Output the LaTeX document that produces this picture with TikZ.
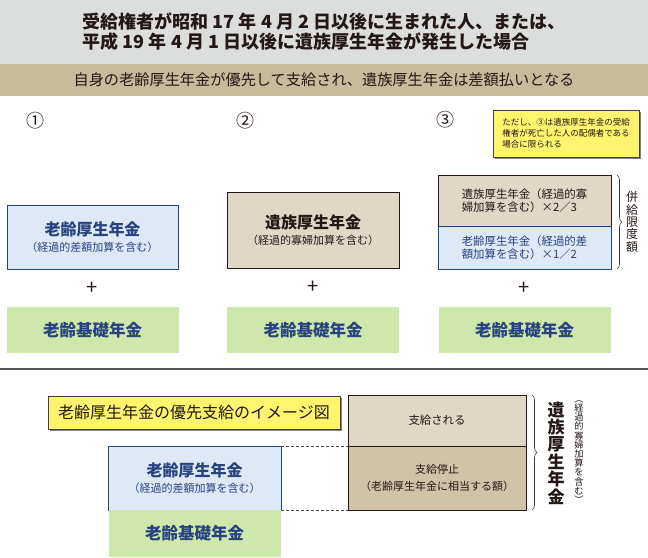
\documentclass[tikz,border=0pt]{standalone}
\usepackage{fontspec}
\setmainfont{Noto Sans CJK JP}
\usetikzlibrary{positioning, calc, shadows, decorations.pathreplacing}

\definecolor{bandgrey}{HTML}{DCDDDD}
\definecolor{bandtan}{HTML}{C8BA9A}
\definecolor{ink}{HTML}{231815}
\definecolor{navy}{HTML}{27437F}
\definecolor{skyfill}{HTML}{DDE9F6}
\definecolor{tanlight}{HTML}{E0D8C5}
\definecolor{tandark}{HTML}{CFC4A7}
\definecolor{leaf}{HTML}{CEE7AA}
\definecolor{memoyellow}{HTML}{FFF46E}
\definecolor{rulegrey}{HTML}{595757}
\newcommand\headlbl[1]{{\fontsize{16}{16}\selectfont\bfseries #1}}

\begin{document}
\begin{tikzpicture}[x=1pt, y=-1pt,
  every node/.style={inner sep=0pt, text=ink},
  band/.style={minimum width=648pt},
  pbox/.style={rectangle, align=center, outer sep=0pt, line width=0.9pt},
  kosei/.style={pbox, draw=navy, fill=skyfill, text=navy, font=\fontsize{11}{16}\selectfont},
  izoku/.style={pbox, draw=ink, fill=tanlight, font=\fontsize{11}{16}\selectfont},
  kiso/.style={pbox, fill=leaf, text=navy, minimum width=172pt, minimum height=46pt, font=\fontsize{16.5}{18}\selectfont\bfseries},
  memo/.style={pbox, draw=black!75, line width=0.6pt, fill=memoyellow, drop shadow={shadow xshift=1.5pt, shadow yshift=-1.5pt, fill=black!50, opacity=1}},
  num/.style={font=\fontsize{18}{18}\selectfont},
  plus/.style={font=\fontsize{20}{20}\selectfont},
  dots/.style={draw=black!70, line width=0.6pt, dash pattern=on 3pt off 2pt},
  bracket/.style={decorate, decoration={brace, amplitude=5pt}, draw=black!80, line width=0.6pt}]
  \useasboundingbox (0,0) rectangle (648,557);
  \node[band, minimum height=64pt, fill=bandgrey, align=left, font=\fontsize{18}{20}\selectfont\bfseries] (head) at (324,32) {受給権者が昭和 17 年 4 月 2 日以後に生まれた人、または、\\平成 19 年 4 月 1 日以後に遺族厚生年金が発生した場合};
  \node[band, minimum height=32pt, fill=bandtan, font=\fontsize{15.2}{16}\selectfont] (lead) at (324,80) {自身の老齢厚生年金が優先して支給され、遺族厚生年金は差額払いとなる};
  \node[num] (n1) at (35,121) {①};
  \node[num] (n2) at (245,121) {②};
  \node[num] (n3) at (445,120) {③};
  \node[memo, minimum width=146pt, minimum height=47pt, align=left, font=\fontsize{8.5}{11}\selectfont] (memo) at (566,133.5) {ただし、③は遺族厚生年金の受給\\権者が死亡した人の配偶者である\\場合に限られる};
  \node[kosei, minimum width=171pt, minimum height=64pt] (k1) at (92.5,237) {\headlbl{老齢厚生年金}\\（経過的差額加算を含む）};
  \node[izoku, minimum width=172pt, minimum height=76pt] (k2) at (313,230) {\headlbl{遺族厚生年金}\\（経過的寡婦加算を含む）};
  \node[izoku, minimum width=173pt, minimum height=51pt, align=left, font=\fontsize{11.4}{13}\selectfont] (s3) at (524.5,200.5) {遺族厚生年金（経過的寡\\婦加算を含む）×2／3};
  \node[kosei, below=0pt of s3, minimum width=173pt, minimum height=43pt, align=left, font=\fontsize{11.4}{13}\selectfont] (r3) {老齢厚生年金（経過的差\\額加算を含む）×1／2};
  \draw[bracket] ([xshift=6pt]s3.north east) -- ([xshift=6pt]r3.south east);
  \node[align=center, font=\fontsize{12}{12.3}\selectfont] (gendo) at ([xshift=21pt]$(s3.north east)!0.5!(r3.south east)$) {併\\給\\限\\度\\額};
  \node[kiso, below=38pt of k1] (g1) {老齢基礎年金};
  \node[kiso, below=39pt of k2] (g2) {老齢基礎年金};
  \node[kiso, below=38pt of r3] (g3) {老齢基礎年金};
  \node[plus] (p1) at ($(k1.south)!0.5!(g1.north)$) {+};
  \node[plus] (p2) at ($(k2.south)!0.5!(g2.north)$) {+};
  \node[plus] (p3) at ($(r3.south)!0.5!(g3.north)$) {+};
  \draw[rulegrey, line width=1.5pt] (0,369) -- (648,369);
  \node[memo, minimum width=292pt, minimum height=33pt, font=\fontsize{16}{16}\selectfont] (zu) at (194,412.5) {老齢厚生年金の優先支給のイメージ図};
  \node[kosei, minimum width=173pt, minimum height=64pt] (k4) at (194.5,478) {\headlbl{老齢厚生年金}\\（経過的差額加算を含む）};
  \node[kiso, below=0pt of k4, minimum height=47pt] (g4) {老齢基礎年金};
  \node[izoku, minimum width=178pt, minimum height=51pt, font=\fontsize{11.4}{16}\selectfont] (paid) at (437,420.5) {支給される};
  \node[izoku, fill=tandark, below=0pt of paid, minimum width=178pt, minimum height=64pt, font=\fontsize{11}{17}\selectfont] (stop) {支給停止\\（老齢厚生年金に相当する額）};
  \draw[dots] (k4.north east) -- (stop.north west);
  \draw[dots] (k4.south east) -- (stop.south west);
  \draw[bracket] ([xshift=6pt]paid.north east) -- ([xshift=6pt]stop.south east);
  \node[align=center, font=\fontsize{17}{17.4}\selectfont\bfseries] (izv) at (556,453) {遺\\族\\厚\\生\\年\\金};
  \node[align=center, font=\fontsize{9.2}{9.2}\selectfont] (kasan) at (579,452) {︵\\経\\過\\的\\寡\\婦\\加\\算\\を\\含\\む\\︶};
\end{tikzpicture}
\end{document}
